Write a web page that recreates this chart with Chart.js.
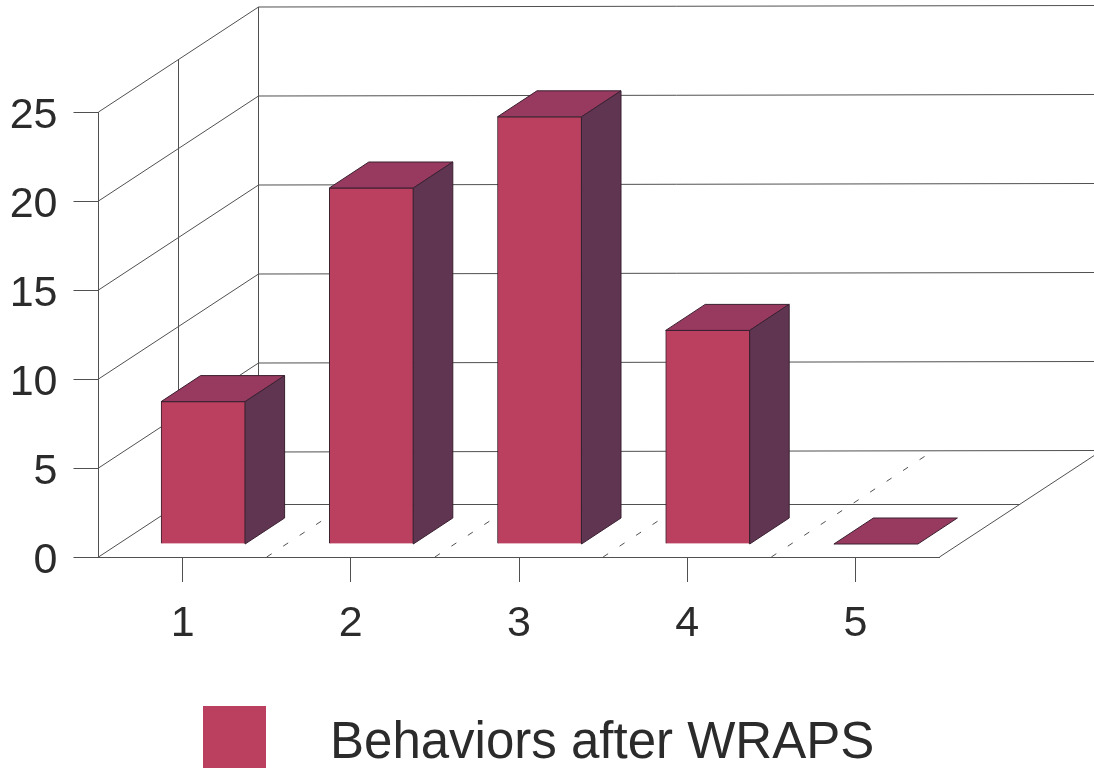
<!DOCTYPE html>
<html>
<head>
<meta charset="utf-8">
<title>Behaviors after WRAPS</title>
<script src="https://cdn.jsdelivr.net/npm/chart.js@4/dist/chart.umd.min.js"></script>
<style>
  html, body { margin: 0; padding: 0; background: #fff; }
  canvas { display: block; }
</style>
</head>
<body>
<canvas id="behaviorChart" width="1094" height="768"></canvas>
<script>
const categories = ['1', '2', '3', '4', '5'];
const behaviorsAfter = [8, 20, 24, 12, 0];
const seriesLabel = 'Behaviors after WRAPS';

const textColor = '#2b2b2b';
const lineColor = '#505050';
const frontColor = '#bb3f5f';
const topColor = '#983a60';
const sideColor = '#603552';
const edgeColor = '#3a2030';

// depth of the box the chart sits in, and of each bar
const wallDx = 160, wallDy = -105;
const barDx = 39.5, barDy = -26;
const barShiftX = 20.5, barShiftY = -13;

function line(ctx, x1, y1, x2, y2) {
  ctx.beginPath();
  ctx.moveTo(x1, y1);
  ctx.lineTo(x2, y2);
  ctx.stroke();
}

function face(ctx, pts, fill) {
  ctx.beginPath();
  pts.forEach((p, i) => i ? ctx.lineTo(p[0], p[1]) : ctx.moveTo(p[0], p[1]));
  ctx.closePath();
  ctx.fillStyle = fill;
  ctx.fill();
  ctx.stroke();
}

const box3d = {
  id: 'box3d',
  beforeDatasetsDraw(chart) {
    const ctx = chart.ctx;
    const xs = chart.scales.x, ys = chart.scales.y;
    const left = chart.chartArea.left, right = chart.chartArea.right;
    const zero = ys.getPixelForValue(0);
    const canvasRight = chart.width;

    ctx.save();
    ctx.strokeStyle = lineColor;
    ctx.lineWidth = 1;

    // walls: one line per y tick, along the side and across the back
    ys.ticks.forEach(t => {
      const y = ys.getPixelForValue(t.value);
      line(ctx, left, y, left + wallDx, y + wallDy);
      line(ctx, left + wallDx, y + wallDy, canvasRight, y + wallDy - 1.5);
    });
    const wallTop = ys.getPixelForValue(ys.max);
    line(ctx, left + wallDx, wallTop + wallDy, left + wallDx, zero + wallDy);
    line(ctx, left + wallDx / 2, wallTop + wallDy / 2, left + wallDx / 2, zero + wallDy / 2);

    // floor
    line(ctx, right, zero, right + wallDx, zero + wallDy);
    line(ctx, left + wallDx / 2, zero + wallDy / 2, right + wallDx / 2, zero + wallDy / 2);
    const step = (right - left) / categories.length;
    ctx.setLineDash([6, 13.7]);
    for (let i = 0; i < categories.length - 1; i++) {
      const bx = xs.getPixelForValue(i) + step / 2;
      line(ctx, bx, zero, bx + wallDx, zero + wallDy);
    }
    ctx.setLineDash([]);

    // top and side of each bar
    ctx.strokeStyle = edgeColor;
    chart.getDatasetMeta(0).data.forEach(bar => {
      const l = bar.x - bar.width / 2 + barShiftX;
      const r = bar.x + bar.width / 2 + barShiftX;
      const t = bar.y + barShiftY;
      const b = zero + barShiftY;
      face(ctx, [[l, t], [r, t], [r + barDx, t + barDy], [l + barDx, t + barDy]], topColor);
      if (b > t) {
        face(ctx, [[r, t], [r + barDx, t + barDy], [r + barDx, b + barDy], [r, b]], sideColor);
      }
    });
    ctx.restore();

    // the front faces are the real bars, moved into the box
    ctx.save();
    ctx.translate(barShiftX, barShiftY);
  },
  afterDatasetsDraw(chart) {
    chart.ctx.restore();
  },
  afterDraw(chart) {
    // legend sits further apart than the built in one allows
    const ctx = chart.ctx;
    ctx.save();
    ctx.fillStyle = frontColor;
    ctx.fillRect(203, 706, 63, 62);
    ctx.fillStyle = textColor;
    ctx.font = '51px "Liberation Sans", Arial, sans-serif';
    ctx.textAlign = 'left';
    ctx.textBaseline = 'alphabetic';
    ctx.fillText(chart.data.datasets[0].label, 330, 758);
    ctx.restore();
  }
};

new Chart(document.getElementById('behaviorChart'), {
  type: 'bar',
  plugins: [box3d],
  data: {
    labels: categories,
    datasets: [{
      label: seriesLabel,
      data: behaviorsAfter,
      backgroundColor: frontColor,
      borderColor: edgeColor,
      borderWidth: 1,
      barThickness: 84,
      clip: false
    }]
  },
  options: {
    responsive: false,
    animation: false,
    layout: { padding: { top: 112, right: 154.5 } },
    plugins: {
      legend: { display: false },
      tooltip: { enabled: false }
    },
    scales: {
      x: {
        afterFit: scale => { scale.height = 211; },
        grid: { offset: false, drawOnChartArea: false, color: lineColor, tickLength: 25 },
        border: { color: lineColor },
        ticks: { color: textColor, padding: 16, maxRotation: 0, font: { family: '"Liberation Sans", Arial, sans-serif', size: 43 } }
      },
      y: {
        min: 0,
        max: 25,
        afterFit: scale => { scale.width = 98.5; },
        grid: { drawOnChartArea: false, color: lineColor, tickLength: 25 },
        border: { color: lineColor },
        ticks: { stepSize: 5, color: textColor, padding: 16, labelOffset: 4, font: { family: '"Liberation Sans", Arial, sans-serif', size: 43 } }
      }
    }
  }
});
</script>
</body>
</html>
